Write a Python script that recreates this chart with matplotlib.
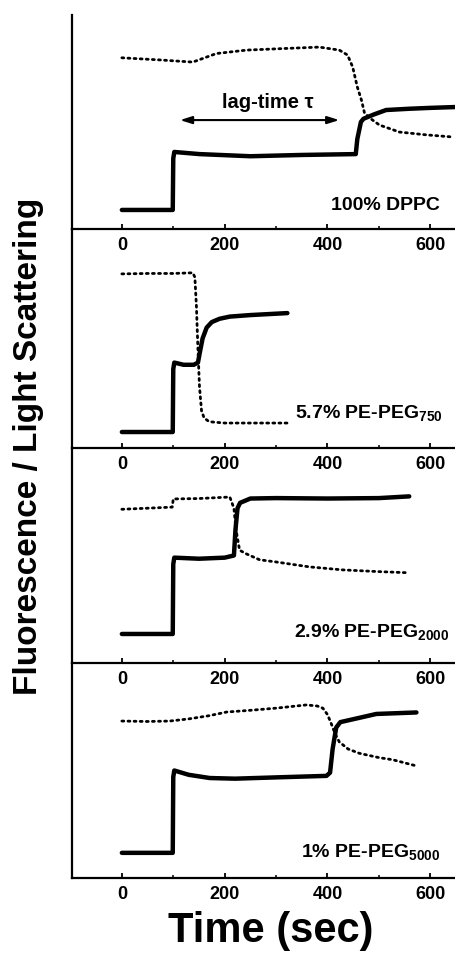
import matplotlib
matplotlib.use("Agg")
import matplotlib.pyplot as plt
from matplotlib.ticker import MultipleLocator

plt.rcParams['font.family'] = ['Liberation Sans', 'DejaVu Sans']
plt.rcParams['mathtext.fontset'] = 'custom'
plt.rcParams['mathtext.rm'] = 'Liberation Sans:bold'
plt.rcParams['mathtext.it'] = 'Liberation Sans:bold'
plt.rcParams['mathtext.bf'] = 'Liberation Sans:bold'

# ---- data (normalised signal per panel) ----
x_ticks = [0, 200, 400, 600]
panel_labels = ["100% DPPC", r"5.7% PE-PEG$_{750}$", r"2.9% PE-PEG$_{2000}$", r"1% PE-PEG$_{5000}$"]

# Panel 1: 100% DPPC
t_fl_1 = [0, 99, 100, 102, 151, 250, 350, 455, 458, 465, 470, 490, 514, 560, 600, 650]
fl_1 = [0.089, 0.089, 0.33, 0.36, 0.35, 0.34, 0.346, 0.35, 0.42, 0.50, 0.515, 0.535, 0.556, 0.562, 0.566, 0.57]
t_ls_1 = [0, 74, 138, 184, 243, 332, 384, 423, 439, 449, 458, 466, 472, 482, 501, 540, 592, 643]
ls_1 = [0.80, 0.79, 0.78, 0.82, 0.836, 0.845, 0.85, 0.836, 0.813, 0.757, 0.664, 0.603, 0.542, 0.519, 0.486, 0.453, 0.44, 0.43]

# Panel 2: 5.7% PE-PEG750
t_fl_2 = [0, 99, 100, 102, 120, 140, 148, 152, 157, 165, 175, 190, 210, 250, 290, 322]
fl_2 = [0.073, 0.073, 0.36, 0.39, 0.38, 0.38, 0.39, 0.44, 0.50, 0.55, 0.575, 0.59, 0.60, 0.607, 0.612, 0.616]
t_ls_2 = [0, 50, 100, 138, 142, 145, 148, 151, 155, 160, 170, 200, 250, 322]
ls_2 = [0.795, 0.797, 0.797, 0.80, 0.78, 0.65, 0.45, 0.28, 0.17, 0.137, 0.12, 0.114, 0.114, 0.114]

# Panel 3: 2.9% PE-PEG2000
t_fl_3 = [0, 99, 100, 102, 150, 200, 218, 221, 225, 230, 250, 300, 400, 500, 559]
fl_3 = [0.135, 0.135, 0.46, 0.49, 0.485, 0.49, 0.50, 0.62, 0.72, 0.745, 0.765, 0.767, 0.765, 0.767, 0.775]
t_ls_3 = [0, 50, 98, 100, 150, 210, 218, 222, 229, 240, 268, 300, 365, 430, 500, 555]
ls_3 = [0.715, 0.72, 0.725, 0.763, 0.765, 0.772, 0.72, 0.62, 0.525, 0.51, 0.48, 0.47, 0.447, 0.433, 0.425, 0.42]

# Panel 4: 1% PE-PEG5000
t_fl_4 = [0, 99, 100, 102, 130, 171, 220, 300, 398, 405, 410, 417, 425, 462, 495, 540, 573]
fl_4 = [0.117, 0.117, 0.47, 0.50, 0.48, 0.465, 0.462, 0.468, 0.475, 0.49, 0.60, 0.70, 0.725, 0.745, 0.763, 0.767, 0.77]
t_ls_4 = [0, 50, 93, 130, 170, 204, 250, 300, 359, 380, 391, 400, 407, 415, 423, 440, 462, 500, 527, 575]
ls_4 = [0.73, 0.728, 0.73, 0.74, 0.755, 0.772, 0.78, 0.79, 0.805, 0.80, 0.79, 0.76, 0.72, 0.67, 0.633, 0.60, 0.58, 0.56, 0.55, 0.52]

# lag-time arrow (panel 1)
lag_start, lag_end, lag_level = 113, 423, 0.509

fl_series = [(t_fl_1, fl_1), (t_fl_2, fl_2), (t_fl_3, fl_3), (t_fl_4, fl_4)]
ls_series = [(t_ls_1, ls_1), (t_ls_2, ls_2), (t_ls_3, ls_3), (t_ls_4, ls_4)]

# ---- layout ----
W, H = 456, 964
fig = plt.figure(figsize=(W / 100, H / 100), dpi=100)
panel_px = [(15, 229), (229, 448), (448, 663), (663, 878)]
label_pos = [(0.958, 0.089), (0.966, 0.137), (0.984, 0.121), (0.958, 0.098)]
left = 72 / W
axes = []
for i, (top, bot) in enumerate(panel_px):
    ax = fig.add_axes([left, (H - bot) / H, 1 - left, (bot - top) / H])
    ax.patch.set_visible(False)
    ax.set_xlim(-97, 650)
    ax.set_ylim(0, 1)
    for s in ['top', 'right']:
        ax.spines[s].set_visible(False)
    ax.spines['left'].set_linewidth(1.6)
    ax.spines['bottom'].set_linewidth(1.6)
    ax.set_yticks([])
    ax.set_xticks(x_ticks)
    ax.xaxis.set_minor_locator(MultipleLocator(100))
    ax.tick_params(axis='x', which='major', direction='in', length=3.5, width=1.3,
                   pad=6, labelsize=13)
    ax.tick_params(axis='x', which='minor', direction='in', length=2.5, width=1.1)
    for lab in ax.get_xticklabels():
        lab.set_fontweight('bold')
    t, y = fl_series[i]
    ax.plot(t, y, color='black', lw=3.2, solid_joinstyle='round', solid_capstyle='round', zorder=3)
    t, y = ls_series[i]
    ax.plot(t, y, color='black', lw=2.0, linestyle=(0, (0.7, 1.5)), dash_capstyle='round', zorder=2)
    ax.text(label_pos[i][0], label_pos[i][1], panel_labels[i], transform=ax.transAxes,
            ha='right', va='baseline', fontsize=14, fontweight='bold')
    axes.append(ax)

ax0 = axes[0]
ax0.annotate('', xy=(lag_end, lag_level), xytext=(lag_start, lag_level),
             arrowprops=dict(arrowstyle='<|-|>,head_length=0.7,head_width=0.22',
                             color='black', lw=1.5, shrinkA=0, shrinkB=0))
ax0.text((lag_start + lag_end) / 2 + 15, 0.59, 'lag-time τ', ha='center', va='center',
         fontsize=14.5, fontweight='bold')

fig.text(271 / W, (H - 942) / H, 'Time (sec)', ha='center', va='baseline', fontsize=30, fontweight='bold')
fig.text(29 / W, (H - 446) / H, 'Fluorescence / Light Scattering', rotation=90,
         ha='center', va='center', fontsize=24, fontweight='bold')

fig.savefig('out.png', dpi=100)
